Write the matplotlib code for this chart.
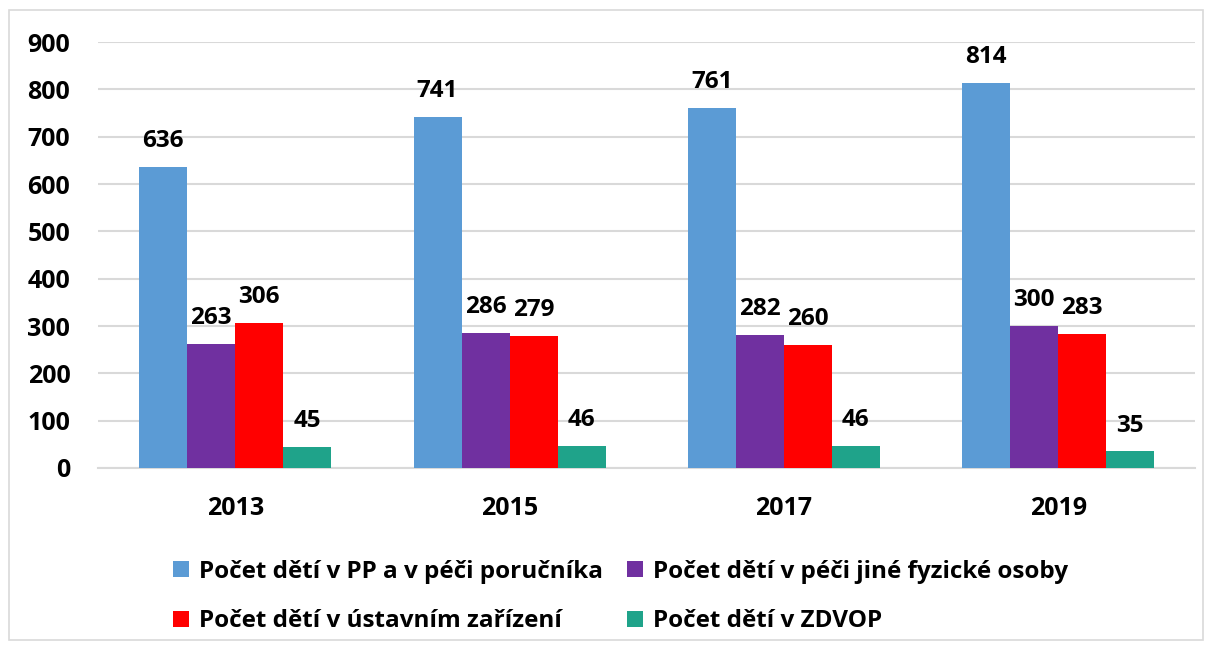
import matplotlib.pyplot as plt
import numpy as np
from matplotlib.patches import Rectangle

years = ['2013', '2015', '2017', '2019']
pp_porucnik = [636, 741, 761, 814]
jina_osoba = [263, 286, 282, 300]
ustavni = [306, 279, 260, 283]
zdvop = [45, 46, 46, 35]

series = [
    ('Počet dětí v PP a v péči poručníka', pp_porucnik, '#5B9BD5'),
    ('Počet dětí v péči jiné fyzické osoby', jina_osoba, '#7030A0'),
    ('Počet dětí v ústavním zařízení', ustavni, '#FF0000'),
    ('Počet dětí v ZDVOP', zdvop, '#1FA38A'),
]

plt.rcParams['font.family'] = ['Open Sans', 'DejaVu Sans']
plt.rcParams['font.weight'] = 'bold'

fig = plt.figure(figsize=(12.11, 6.48), dpi=100)
ax = fig.add_axes([0.081, 0.2778, 0.906, 0.6572])

x = np.arange(len(years))
w = 0.175
handles = []
for i, (name, vals, col) in enumerate(series):
    pos = x + (i - 1.5) * w
    bars = ax.bar(pos, vals, w, color=col, label=name, zorder=3)
    handles.append(bars)
    for b, v in zip(bars, vals):
        ax.annotate(str(v), (b.get_x() + b.get_width() / 2, v),
                    xytext=(0, 10), textcoords='offset points',
                    ha='center', va='bottom', fontsize=17.5, fontweight='bold')

ax.set_xlim(-0.5, 3.5)
ax.set_ylim(0, 900)
ax.set_yticks(range(0, 901, 100))
ax.set_xticks(x)
ax.set_xticklabels(years, fontweight='bold')
ax.set_yticklabels([str(v) for v in range(0, 901, 100)], fontweight='bold')
ax.tick_params(axis='both', length=0, labelsize=18)
ax.tick_params(axis='y', pad=20)
ax.tick_params(axis='x', pad=20)
ax.yaxis.grid(True, color='#D9D9D9', lw=1.5, zorder=0)
for s in ['top', 'right', 'left']:
    ax.spines[s].set_visible(False)
ax.spines['bottom'].set_color('#D9D9D9')
ax.spines['bottom'].set_linewidth(1.5)

order = [0, 2, 1, 3]
fig.legend([handles[k] for k in order], [series[k][0] for k in order],
           loc='upper left', bbox_to_anchor=(0.125, 0.17), ncol=2,
           frameon=False, handlelength=0.65, handleheight=0.65,
           handletextpad=0.4, columnspacing=1.0, labelspacing=1.05,
           prop={'weight': 'bold', 'size': 17.5})

fig.patches.append(Rectangle((9 / 1211, 8 / 648), 1194 / 1211, 630 / 648,
                             transform=fig.transFigure, fill=False,
                             edgecolor='#D9D9D9', lw=1.2))

fig.savefig('out.png', dpi=100)
